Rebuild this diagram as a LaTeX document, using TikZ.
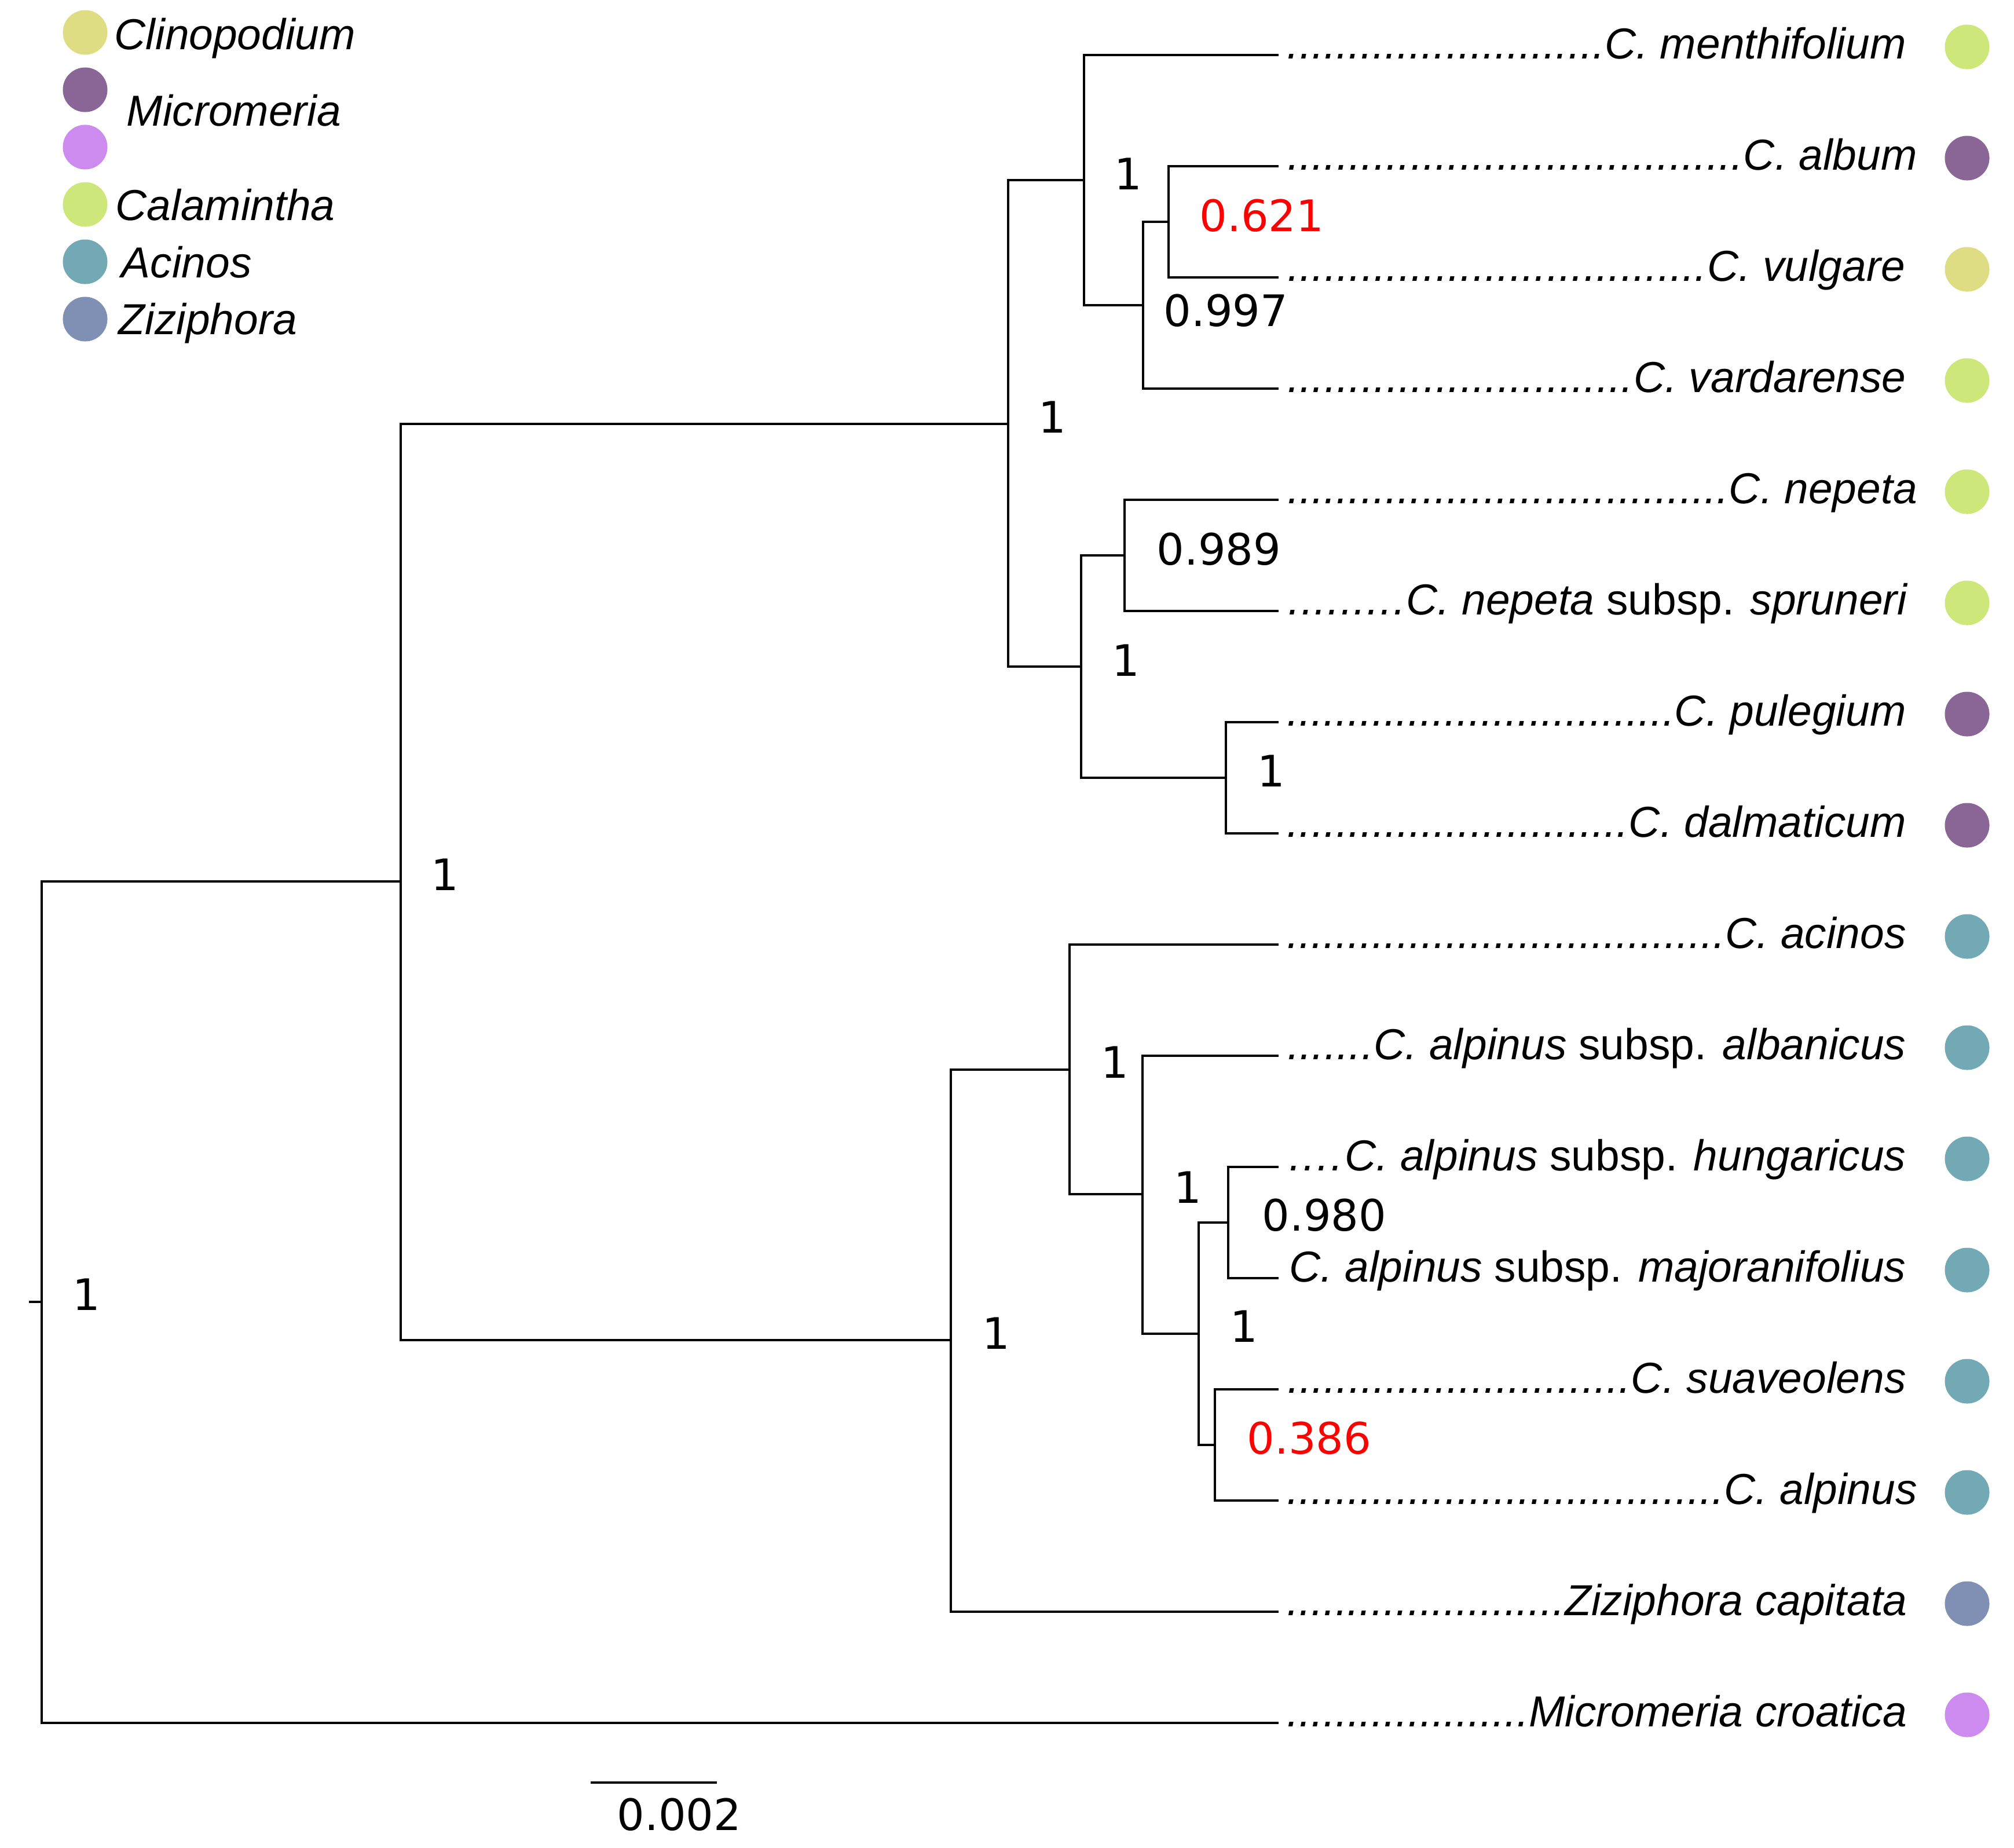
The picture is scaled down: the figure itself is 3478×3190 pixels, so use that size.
\documentclass[tikz,border=0pt]{standalone}
\usepackage{fontspec}
\setmainfont{Liberation Sans}
\newfontfamily\bsfont{DejaVu Sans}
\definecolor{clino}{RGB}{222,221,132}
\definecolor{micro}{RGB}{138,102,150}
\definecolor{microlt}{RGB}{205,139,239}
\definecolor{calam}{RGB}{206,231,122}
\definecolor{acin}{RGB}{115,169,180}
\definecolor{zizi}{RGB}{127,144,180}
\newcommand{\leafdots}{\xleaders\hbox to 0.278em{\hss.\hss}\hfill}
\tikzset{
	branch/.style={line width=1.3pt},
	bs/.style={inner sep=0pt, font=\bsfont\fontsize{21.3}{25}\selectfont},
	taxon/.style={inner sep=0pt, anchor=base east, font=\fontsize{21.3}{25}\selectfont\itshape},
	genus/.style={inner sep=0pt, anchor=base west, font=\fontsize{21.3}{25}\selectfont\itshape},
	spot/.style={circle, inner sep=0pt, minimum size=0.77cm}
}
\begin{document}
\begin{tikzpicture}[x=0.01cm, y=-0.01cm]
	\useasboundingbox (0,0) rectangle (3478,3190);
	% leaves
	\foreach \i/\txt/\col/\rx in {0/{C. menthifolium}/calam/3292, 1/{C. album}/micro/3311, 2/{C. vulgare}/clino/3290,
		3/{C. vardarense}/calam/3292, 4/{C. nepeta}/calam/3311, 5/{C. nepeta \textup{subsp.} spruneri}/calam/3294,
		6/{C. pulegium}/micro/3292, 7/{C. dalmaticum}/micro/3292, 8/{C. acinos}/acin/3292,
		9/{C. alpinus \textup{subsp.} albanicus}/acin/3292, 10/{C. alpinus \textup{subsp.} hungaricus}/acin/3292,
		11/{C. alpinus \textup{subsp.} majoranifolius}/acin/3292, 12/{C. suaveolens}/acin/3292,
		13/{C. alpinus}/acin/3311, 14/{Ziziphora capitata}/zizi/3294, 15/{Micromeria croatica}/microlt/3294}{
		\pgfmathsetmacro{\y}{95+192*\i}
		\pgfmathsetlengthmacro{\w}{(\rx-2224)*0.284528}
		\coordinate (l\i) at (2208,\y);
		\node[taxon] (t\i) at (\rx,\y+6) {\hbox to \w{\leafdots\txt}};
		\node[spot, fill=\col] (s\i) at (3397,\y-14) {};
	}
	% internal nodes
	\coordinate (R) at (72,2248);
	\coordinate (A) at (692,1522);
	\coordinate (B) at (1741,732);
	\coordinate (C) at (1872,311);
	\coordinate (D) at (1974,527);
	\coordinate (E) at (2018,383);
	\coordinate (F) at (1867,1151);
	\coordinate (G) at (1942,959);
	\coordinate (H) at (2117,1343);
	\coordinate (I) at (1642,2314);
	\coordinate (J) at (1847,1847);
	\coordinate (K) at (1973,2062);
	\coordinate (L) at (2070,2303);
	\coordinate (M) at (2121,2111);
	\coordinate (N) at (2098,2495);
	\coordinate (stub) at (50,2248);
	\draw[branch] (stub) -- (R);
	\foreach \p/\c in {R/A, A/B, B/C, C/l0, C/D, D/E, E/l1, E/l2, D/l3, B/F, F/G, G/l4, G/l5,
		F/H, H/l6, H/l7, A/I, I/J, J/l8, J/K, K/l9, K/L, L/M, M/l10, M/l11, L/N, N/l12, N/l13,
		I/l14, R/l15}
		\draw[branch] (\p) |- (\c);
	% support values
	\foreach \bx/\by/\v/\col in {1948/300/1/black, 2179/372/0.621/red, 2117/536/0.997/black,
		1817/720/1/black, 2105/948/0.989/black, 1944/1140/1/black, 2195/1331/1/black,
		768/1510/1/black, 1720/2302/1/black, 1925/1834/1/black, 2051/2050/1/black,
		2287/2098/0.980/black, 2148/2290/1/black, 2261/2483/0.386/red, 149/2235/1/black}
		\node[bs, text=\col] at (\bx,\by) {\v};
	% scale bar
	\draw[branch] (1020,3078) -- (1238,3078);
	\node[bs] (scale) at (1173,3133) {0.002};
	% legend
	\foreach \k/\col in {0/clino, 1/micro, 2/microlt, 3/calam, 4/acin, 5/zizi}
		\node[spot, fill=\col] (g\k) at (147,56+99*\k) {};
	\node[genus] (clin) at (197,85) {Clinopodium};
	\node[genus] (micr) at (218,217) {Micromeria};
	\node[genus] (cala) at (199,380) {Calamintha};
	\node[genus] (acinos) at (209,479) {Acinos};
	\node[genus] (zizip) at (204,577) {Ziziphora};
\end{tikzpicture}
\end{document}
